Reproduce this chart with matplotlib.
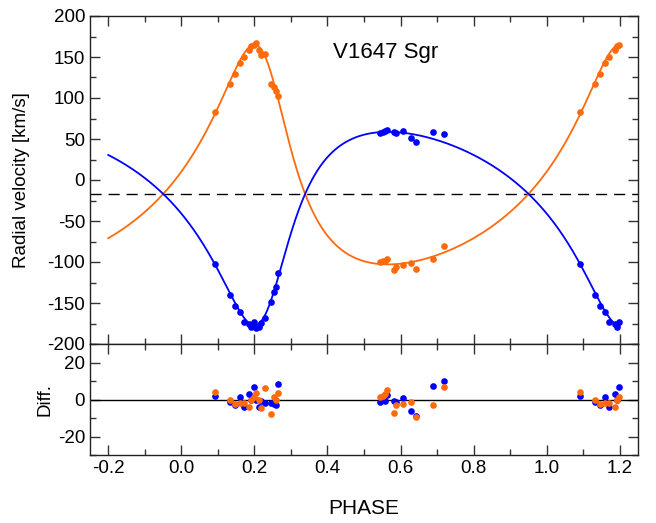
import numpy as np
import matplotlib
matplotlib.use("Agg")
import matplotlib.pyplot as plt
from matplotlib.ticker import MultipleLocator, FormatStrFormatter

plt.rcParams['font.family'] = ['Liberation Sans', 'DejaVu Sans']
plt.rcParams['axes.unicode_minus'] = False

# observed phases (first cycle)
phase_a = [0.092, 0.132, 0.146, 0.160, 0.171, 0.186, 0.192, 0.199,
           0.205, 0.213, 0.218, 0.230, 0.246, 0.254, 0.258, 0.264]
rv1_a = [-102, -140, -154, -161, -173, -176, -179, -173,
         -180, -179, -174, -168, -149, -136, -131, -113]
rv2_a = [83, 117, 129, 143, 150, 158, 163, 165,
         167, 159, 153, 154, 117, 113, 109, 102]
res1_a = [2.0, -1.5, -2.8, 1.3, -4.2, 2.8, -0.5, 7.0,
          -0.3, -4.0, -1.0, -1.8, -1.8, -2.5, -3.0, 8.3]
res2_a = [4.3, -0.2, -2.3, -1.8, -1.8, -4.3, -0.5, 1.3,
          3.6, 0.0, -4.7, 6.3, -7.9, 1.3, -0.5, 3.6]

phase_b = [0.545, 0.553, 0.558, 0.563, 0.583, 0.588, 0.606, 0.628, 0.641, 0.690, 0.720]
rv1_b = [57.3, 58.5, 59.8, 61.4, 58.0, 57.3, 59.3, 50.8, 46.3, 58.0, 56.0]
rv2_b = [-100.4, -99.0, -98.4, -96.7, -109.3, -105.7, -104.0, -101.0, -108.0, -96.0, -81.0]
res1_b = [-1.4, 0.5, -1.0, 2.5, -1.0, -1.4, 0.9, -6.1, -9.0, 7.4, 9.9]
res2_b = [1.3, 2.0, 3.0, 4.9, -7.4, -3.1, -2.5, -1.3, -9.4, -3.1, 6.5]

# orbital elements
gamma = -17.0
K1 = 118.0
K2 = 134.0
ecc = 0.41
omega_deg = 209.0
phase_peri = 0.2315

phase = np.array(phase_a + phase_b)
rv1 = np.array(rv1_a + rv1_b)
rv2 = np.array(rv2_a + rv2_b)
res1 = np.array(res1_a + res1_b)
res2 = np.array(res2_a + res2_b)

# repeat points one cycle later where they still fall in the plotted range
rep = phase + 1 <= 1.2
ph_all = np.concatenate([phase, phase[rep] + 1])
rv1_all = np.concatenate([rv1, rv1[rep]])
rv2_all = np.concatenate([rv2, rv2[rep]])
res1_all = np.concatenate([res1, res1[rep]])
res2_all = np.concatenate([res2, res2[rep]])


def orbit(ph):
    M = 2 * np.pi * (ph - phase_peri)
    E = M.copy()
    for _ in range(50):
        E = E - (E - ecc * np.sin(E) - M) / (1 - ecc * np.cos(E))
    nu = 2 * np.arctan2(np.sqrt(1 + ecc) * np.sin(E / 2), np.sqrt(1 - ecc) * np.cos(E / 2))
    w = np.radians(omega_deg)
    base = np.cos(nu + w) + ecc * np.cos(w)
    return gamma + K1 * base, gamma - K2 * base


ph_curve = np.linspace(-0.2, 1.2, 1000)
v1_curve, v2_curve = orbit(ph_curve)

blue = '#0000ff'
orange = '#ff6a0a'

fig = plt.figure(figsize=(6.56, 5.23), dpi=100)
ax = fig.add_axes([90 / 656, 179 / 523, 548 / 656, 328 / 523])
ax2 = fig.add_axes([90 / 656, 68 / 523, 548 / 656, 111 / 523])

ax.axhline(gamma, color='black', lw=1.0, dashes=(8, 5))
ax.plot(ph_curve, v2_curve, color=orange, lw=1.3)
ax.plot(ph_curve, v1_curve, color=blue, lw=1.3)
ax.plot(ph_all, rv2_all, 'o', color=orange, ms=4.8, mec='none')
ax.plot(ph_all, rv1_all, 'o', color=blue, ms=4.8, mec='none')
ax.text(0.415, 156, 'V1647 Sgr', fontsize=16, va='center', ha='left')

ax2.axhline(0, color='black', lw=1.0)
ax2.plot(ph_all, res1_all, 'o', color=blue, ms=4.8, mec='none')
ax2.plot(ph_all, res2_all, 'o', color=orange, ms=4.8, mec='none')

ax.set_xlim(-0.25, 1.25)
ax.set_ylim(-200, 200)
ax2.set_xlim(-0.25, 1.25)
ax2.set_ylim(-30, 30)

for a in (ax, ax2):
    a.xaxis.set_major_locator(MultipleLocator(0.2))
    a.xaxis.set_minor_locator(MultipleLocator(0.1))
    a.tick_params(which='both', direction='in', top=True, right=True,
                  color='#333333', labelsize=13.5)
    a.tick_params(which='major', length=7, width=1)
    a.tick_params(which='minor', length=4, width=1)
    for s in a.spines.values():
        s.set_linewidth(1.0)
        s.set_color('#222222')

ax.yaxis.set_major_locator(MultipleLocator(50))
ax.yaxis.set_minor_locator(MultipleLocator(25))
ax.yaxis.set_major_formatter(FormatStrFormatter('%d'))
ax.tick_params(labelbottom=False)

ax2.yaxis.set_major_locator(MultipleLocator(20))
ax2.yaxis.set_minor_locator(MultipleLocator(10))
ax2.yaxis.set_major_formatter(FormatStrFormatter('%d'))
ax2.xaxis.set_major_formatter(FormatStrFormatter('%.1f'))

ax.set_ylabel('Radial velocity [km/s]', fontsize=13.5)
ax.yaxis.set_label_coords(-0.11, 0.5)
ax2.set_ylabel('Diff.', fontsize=13.5)
ax2.yaxis.set_label_coords(-0.067, 0.5)
ax2.set_xlabel('PHASE', fontsize=15)
ax2.xaxis.set_label_coords(0.5, -0.40)

fig.savefig('out.png', dpi=100)
